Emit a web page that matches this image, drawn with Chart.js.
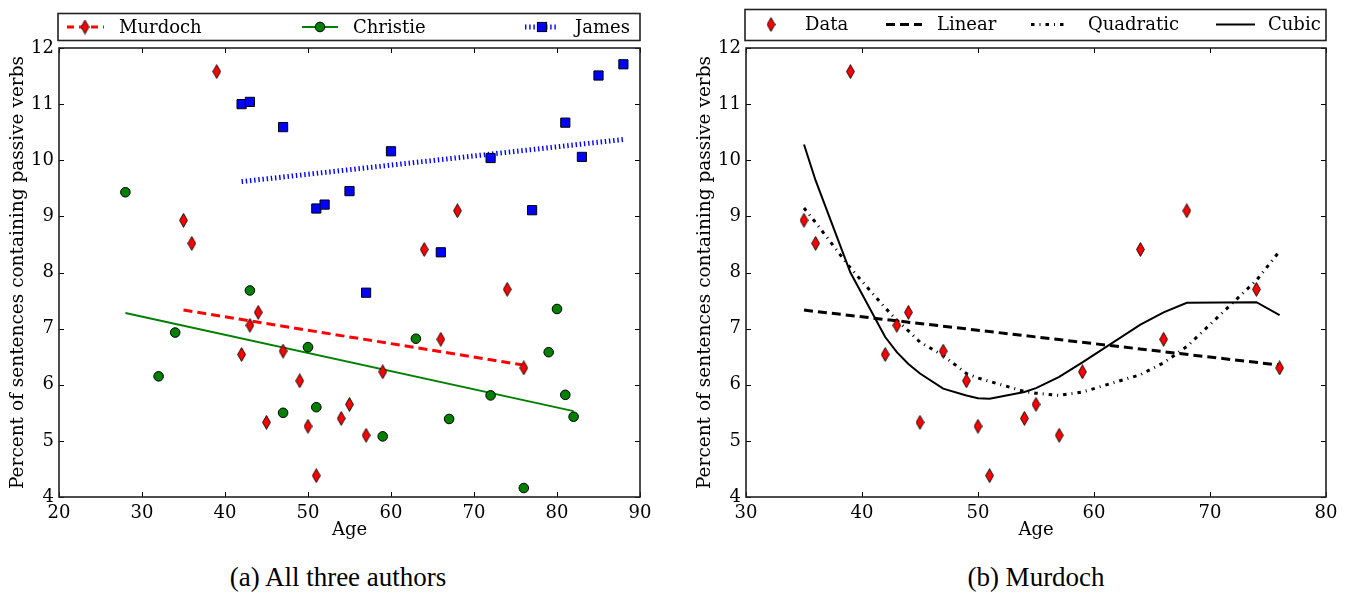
<!DOCTYPE html>
<html>
<head>
<meta charset="utf-8">
<script src="https://cdn.jsdelivr.net/npm/chart.js@4/dist/chart.umd.min.js"></script>
<style>
html, body { margin: 0; padding: 0; background: #fff; width: 1348px; height: 593px; overflow: hidden; }
.panel { position: absolute; top: 0; height: 545px; }
#leftWrap { left: 0; width: 676px; }
#rightWrap { left: 676px; width: 672px; }
.caption { position: absolute; top: 562px; line-height: 30px; font-family: "Liberation Serif", serif; font-size: 27px; color: #000; white-space: nowrap; transform: translateX(-50%); }
</style>
</head>
<body>
<div class="panel" id="leftWrap"><canvas id="allChart"></canvas></div>
<div class="panel" id="rightWrap"><canvas id="murdochChart"></canvas></div>
<div class="caption" style="left:338px">(a) All three authors</div>
<div class="caption" style="left:1036px">(b) Murdoch</div>
<script>
// valori
const murdochAge = [35, 36, 39, 42, 43, 44, 45, 47, 49, 50, 51, 54, 55, 57, 59, 64, 66, 68, 74, 76];
const murdochPassive = [8.93, 8.52, 11.58, 6.54, 7.06, 7.29, 5.33, 6.60, 6.07, 5.26, 4.38, 5.40, 5.65, 5.10, 6.23, 8.41, 6.81, 9.10, 7.70, 6.30];
const christieAge = [28, 32, 34, 43, 47, 50, 51, 59, 63, 67, 72, 76, 79, 80, 81, 82];
const christiePassive = [9.43, 6.15, 6.93, 7.68, 5.50, 6.67, 5.60, 5.08, 6.82, 5.39, 5.81, 4.16, 6.58, 7.35, 5.82, 5.43];
const jamesAge = [42, 43, 47, 51, 52, 55, 57, 60, 66, 72, 77, 81, 83, 85, 88];
const jamesPassive = [11.00, 11.04, 10.59, 9.14, 9.21, 9.45, 7.64, 10.16, 8.36, 10.04, 9.11, 10.67, 10.06, 11.51, 11.71];

// rette di regressione (estremi)
const murdochFitAge = [35, 76];
const murdochFit = [7.33, 6.35];
const christieFitAge = [28, 82];
const christieFit = [7.28, 5.53];
const jamesFitAge = [42, 88];
const jamesFit = [9.62, 10.37];

// modelli per Murdoch, valutati sulle età dei dati
const linearAge = [35, 76];
const linearFit = [7.33, 6.35];
const quadraticFit = [9.15, 8.89, 8.08, 7.37, 7.15, 6.96, 6.76, 6.52, 6.20, 6.12, 6.06, 5.88, 5.85, 5.81, 5.87, 6.18, 6.39, 6.68, 7.86, 8.38];
const cubicFit = [10.28, 9.64, 8.00, 6.85, 6.58, 6.37, 6.20, 5.93, 5.81, 5.76, 5.75, 5.87, 5.94, 6.14, 6.40, 7.07, 7.29, 7.46, 7.47, 7.24];

const leftTicksX = [20, 90];
const rightTicksX = [30, 80];
const ticksY = [4, 12];

const SERIF = "'DejaVu Serif', serif";

function pairs(xs, ys) {
    return xs.map((x, i) => ({ x: x, y: ys[i] }));
}

// rombo stretto come marker
const diamond = document.createElement('canvas');
diamond.width = 9;
diamond.height = 15;
(function () {
    const c = diamond.getContext('2d');
    c.beginPath();
    c.moveTo(4.5, 0.6);
    c.lineTo(8.4, 7.5);
    c.lineTo(4.5, 14.4);
    c.lineTo(0.6, 7.5);
    c.closePath();
    c.fillStyle = '#ff0000';
    c.fill();
    c.lineWidth = 0.9;
    c.strokeStyle = '#000';
    c.stroke();
})();

function drawMarker(ctx, kind, x, y) {
    ctx.save();
    ctx.setLineDash([]);
    ctx.lineWidth = 1;
    ctx.strokeStyle = '#000';
    if (kind === 'diamond') {
        ctx.drawImage(diamond, x - diamond.width / 2, y - diamond.height / 2);
    } else if (kind === 'circle') {
        ctx.beginPath();
        ctx.arc(x, y, 4.8, 0, Math.PI * 2);
        ctx.fillStyle = '#008000';
        ctx.fill();
        ctx.stroke();
    } else if (kind === 'square') {
        ctx.fillStyle = '#0000ff';
        ctx.fillRect(x - 4.6, y - 4.6, 9.2, 9.2);
        ctx.strokeRect(x - 4.6, y - 4.6, 9.2, 9.2);
    }
    ctx.restore();
}

// cornice, tacche interne e legenda in stile matplotlib
const frameLegend = {
    id: 'frameLegend',
    afterDraw(chart, args, opts) {
        const ctx = chart.ctx;
        const a = chart.chartArea;
        const xs = chart.scales.x;
        const ys = chart.scales.y;
        ctx.save();
        ctx.strokeStyle = '#000';
        ctx.lineWidth = 1;
        ctx.beginPath();
        xs.ticks.forEach(t => {
            const px = Math.round(xs.getPixelForValue(t.value)) + 0.5;
            ctx.moveTo(px, a.bottom); ctx.lineTo(px, a.bottom - 5);
            ctx.moveTo(px, a.top); ctx.lineTo(px, a.top + 5);
        });
        ys.ticks.forEach(t => {
            const py = Math.round(ys.getPixelForValue(t.value)) + 0.5;
            ctx.moveTo(a.left, py); ctx.lineTo(a.left + 5, py);
            ctx.moveTo(a.right, py); ctx.lineTo(a.right - 5, py);
        });
        ctx.stroke();
        ctx.strokeStyle = '#222';
        ctx.lineWidth = 1.6;
        ctx.strokeRect(a.left, a.top, a.right - a.left, a.bottom - a.top);

        const b = opts.box;
        ctx.strokeRect(b[0], b[1], b[2] - b[0], b[3] - b[1]);
        const cy = opts.textY;
        ctx.font = '18px ' + SERIF;
        ctx.textBaseline = 'middle';
        ctx.textAlign = 'left';
        opts.items.forEach(it => {
            if (it.h) {
                ctx.save();
                ctx.strokeStyle = it.color;
                ctx.lineWidth = it.width;
                ctx.lineCap = 'butt';
                ctx.setLineDash(it.dash || []);
                ctx.beginPath();
                ctx.moveTo(it.h[0], cy);
                ctx.lineTo(it.h[1], cy);
                ctx.stroke();
                ctx.restore();
            }
            if (it.marker) drawMarker(ctx, it.marker, it.mx, cy);
            ctx.fillStyle = '#000';
            ctx.fillText(it.label, it.tx, cy + 1);
        });
        ctx.restore();
    }
};

function axes(xRange, yWidth, titlePad) {
    return {
        x: {
            type: 'linear',
            min: xRange[0],
            max: xRange[1],
            grid: { display: false, drawTicks: false },
            border: { display: false },
            ticks: { stepSize: 10, padding: 6, color: '#000', font: { family: SERIF, size: 18 } },
            title: { display: true, text: 'Age', color: '#000', font: { family: SERIF, size: 18 }, padding: { top: 0, bottom: 4 } },
            afterFit: s => { s.height = 48; }
        },
        y: {
            type: 'linear',
            min: ticksY[0],
            max: ticksY[1],
            grid: { display: false, drawTicks: false },
            border: { display: false },
            ticks: { stepSize: 1, padding: 5, color: '#000', font: { family: SERIF, size: 18 } },
            title: { display: true, text: 'Percent of sentences containing passive verbs', color: '#000', font: { family: SERIF, size: 18.5 }, padding: { top: titlePad, bottom: 0 } },
            afterFit: s => { s.width = yWidth; }
        }
    };
}

function scatterSet(label, xs, ys, style, radius, color, order) {
    return {
        label: label,
        data: pairs(xs, ys),
        showLine: false,
        pointStyle: style,
        pointRadius: radius,
        pointHoverRadius: radius,
        pointBackgroundColor: color,
        pointBorderColor: '#000',
        pointBorderWidth: 1,
        order: order
    };
}

function lineSet(label, xs, ys, color, width, dash, order) {
    return {
        label: label,
        data: pairs(xs, ys),
        showLine: true,
        fill: false,
        tension: 0,
        borderColor: color,
        borderWidth: width,
        borderDash: dash,
        borderCapStyle: 'butt',
        pointRadius: 0,
        order: order
    };
}

new Chart(document.getElementById('allChart'), {
    type: 'scatter',
    data: {
        datasets: [
            scatterSet('Murdoch', murdochAge, murdochPassive, diamond, 7, '#ff0000', 1),
            scatterSet('Christie', christieAge, christiePassive, 'circle', 4.8, '#008000', 2),
            scatterSet('James', jamesAge, jamesPassive, 'rect', 6.5, '#0000ff', 3),
            lineSet('Murdoch fit', murdochFitAge, murdochFit, '#ff0000', 3, [9, 5], 4),
            lineSet('Christie fit', christieFitAge, christieFit, '#008000', 2, [], 5),
            lineSet('James fit', jamesFitAge, jamesFit, '#0000ff', 5, [1.4, 2.8], 6)
        ]
    },
    options: {
        responsive: true,
        maintainAspectRatio: false,
        animation: false,
        events: [],
        layout: { padding: { left: 0, top: 48, right: 36, bottom: 0 } },
        scales: axes(leftTicksX, 59, 7),
        plugins: {
            legend: { display: false },
            tooltip: { enabled: false },
            frameLegend: {
                box: [58, 13.5, 640, 40.5],
                textY: 27,
                items: [
                    { label: 'Murdoch', h: [67, 104], color: '#ff0000', width: 3, dash: [7, 5], marker: 'diamond', mx: 85, tx: 119 },
                    { label: 'Christie', h: [302, 338], color: '#008000', width: 2, dash: [], marker: 'circle', mx: 320, tx: 353 },
                    { label: 'James', h: [525, 558], color: '#0000ff', width: 5, dash: [1.4, 2.8], marker: 'square', mx: 542, tx: 575 }
                ]
            }
        }
    },
    plugins: [frameLegend]
});

new Chart(document.getElementById('murdochChart'), {
    type: 'scatter',
    data: {
        datasets: [
            scatterSet('Data', murdochAge, murdochPassive, diamond, 7, '#ff0000', 1),
            lineSet('Linear', linearAge, linearFit, '#000', 3, [9, 5], 2),
            lineSet('Quadratic', murdochAge, quadraticFit, '#000', 3, [3.5, 5, 1, 5], 3),
            lineSet('Cubic', murdochAge, cubicFit, '#000', 2, [], 4)
        ]
    },
    options: {
        responsive: true,
        maintainAspectRatio: false,
        animation: false,
        events: [],
        layout: { padding: { left: 0, top: 48, right: 22, bottom: 0 } },
        scales: axes(rightTicksX, 70, 18),
        plugins: {
            legend: { display: false },
            tooltip: { enabled: false },
            frameLegend: {
                box: [69, 9.5, 650, 40.5],
                textY: 24.5,
                items: [
                    { label: 'Data', marker: 'diamond', mx: 95, tx: 129 },
                    { label: 'Linear', h: [210, 246], color: '#000', width: 3, dash: [9, 5], tx: 261 },
                    { label: 'Quadratic', h: [355, 391], color: '#000', width: 3, dash: [3.5, 5, 1, 5], tx: 412 },
                    { label: 'Cubic', h: [540, 579], color: '#000', width: 2, dash: [], tx: 592 }
                ]
            }
        }
    },
    plugins: [frameLegend]
});
</script>
</body>
</html>
